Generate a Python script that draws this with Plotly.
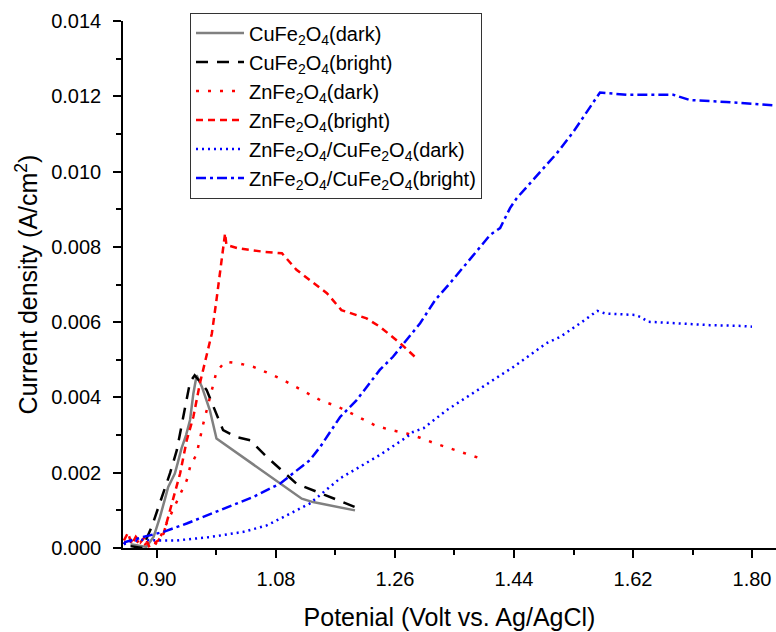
import plotly.graph_objects as go

# ---- data ----
cu_dark_x = [0.860, 0.875, 0.884, 0.895, 0.9045, 0.912, 0.917, 0.922, 0.927, 0.932, 0.937, 0.944,
             0.950, 0.955, 0.960, 0.968, 0.980, 0.990, 1.119, 1.136, 1.1995]
cu_dark_y = [0.0001, 0.00005, 0.00003, 0.0003, 0.00082, 0.0013, 0.00162, 0.0018, 0.00198, 0.0023,
             0.00264, 0.0030, 0.0034, 0.0041, 0.00459, 0.00428, 0.00366, 0.00291, 0.00131, 0.00122, 0.00100]

cu_bright_x = [0.860, 0.878, 0.892, 0.907, 0.920, 0.930, 0.940, 0.950, 0.957, 0.975, 1.000, 1.020,
               1.041, 1.066, 1.111, 1.172, 1.1995]
cu_bright_y = [0.00005, 0.0000, 0.00056, 0.00136, 0.0020, 0.0026, 0.0035, 0.00441, 0.00459, 0.0042,
               0.00313, 0.00295, 0.00286, 0.00242, 0.00171, 0.00127, 0.00109]

zn_dark_x = [0.850, 0.858, 0.866, 0.874, 0.882, 0.890, 0.900, 0.912, 0.930, 0.945, 0.950, 0.960,
             0.970, 0.980, 0.990, 1.003, 1.025, 1.046, 1.068, 1.091, 1.129, 1.150, 1.172, 1.192,
             1.212, 1.232, 1.255, 1.278, 1.298, 1.320, 1.341, 1.363, 1.389]
zn_dark_y = [0.0001, 0.0003, 0.00005, 0.00025, 0.0001, 0.0002, 0.0001, 0.00056, 0.00127, 0.0018,
             0.00215, 0.0025, 0.0033, 0.0040, 0.00468, 0.00495, 0.0049, 0.00481, 0.00465, 0.00446,
             0.0041, 0.0039, 0.00377, 0.00359, 0.00341, 0.00324, 0.00313, 0.00304, 0.00293, 0.00278,
             0.00266, 0.00254, 0.00238]

zn_bright_x = [0.850, 0.856, 0.862, 0.868, 0.875, 0.882, 0.888, 0.894, 0.902, 0.910, 0.917, 0.927,
               0.935, 0.945, 0.955, 0.965, 0.973, 0.980, 0.983, 0.990, 0.998, 1.003, 1.005, 1.023,
               1.061, 1.089, 1.111, 1.137, 1.157, 1.179, 1.217, 1.237, 1.268, 1.290]
zn_bright_y = [0.0002, 0.0004, 0.0001, 0.0003, 0.00015, 0.0003, 0.00005, 0.00012, 0.0002, 0.00038,
               0.00082, 0.00145, 0.00198, 0.00286, 0.00348, 0.00438, 0.0050, 0.00552, 0.0057, 0.00659,
               0.00774, 0.00836, 0.00805, 0.00796, 0.00787, 0.00783, 0.00739, 0.00703, 0.00677,
               0.00632, 0.0061, 0.00588, 0.00544, 0.00508]

zc_dark_x = [0.850, 0.860, 0.879, 0.900, 0.930, 0.980, 1.031, 1.066, 1.091, 1.131, 1.177, 1.222,
             1.237, 1.278, 1.288, 1.303, 1.338, 1.389, 1.439, 1.489, 1.510, 1.540, 1.555, 1.566,
             1.578, 1.623, 1.631, 1.643, 1.686, 1.736, 1.784, 1.800]
zc_dark_y = [0.0001, 0.00018, 0.00022, 0.0002, 0.0002, 0.00029, 0.00043, 0.0006, 0.00082, 0.00118,
             0.00185, 0.00233, 0.00247, 0.00295, 0.00309, 0.00318, 0.00366, 0.00424, 0.00481,
             0.00544, 0.00561, 0.00597, 0.00616, 0.0063, 0.00623, 0.00619, 0.00614, 0.00601,
             0.00597, 0.00592, 0.0059, 0.00588]

zc_bright_x = [0.850, 0.852, 0.879, 0.910, 0.945, 0.990, 1.046, 1.086, 1.131, 1.147, 1.177, 1.202,
               1.222, 1.237, 1.257, 1.278, 1.298, 1.321, 1.343, 1.389, 1.404, 1.419, 1.434, 1.444,
               1.469, 1.484, 1.505, 1.530, 1.560, 1.570, 1.610, 1.681, 1.706, 1.761, 1.832, 1.840]
zc_bright_y = [0.0001, 0.00016, 0.00029, 0.00043, 0.00065, 0.00096, 0.00136, 0.00171, 0.00233,
               0.00269, 0.00348, 0.00393, 0.00437, 0.00473, 0.00508, 0.00552, 0.00597, 0.00659,
               0.00703, 0.008, 0.00832, 0.0085, 0.00903, 0.00929, 0.00978, 0.01009, 0.01049,
               0.01106, 0.01186, 0.0121, 0.01204, 0.01204, 0.0119, 0.01185, 0.01176, 0.01175]

x_ticks = [0.90, 1.08, 1.26, 1.44, 1.62, 1.80]
y_ticks = [0.000, 0.002, 0.004, 0.006, 0.008, 0.010, 0.012, 0.014]

FONT = "Arial, Liberation Sans, sans-serif"

series = [
    ("CuFe<sub>2</sub>O<sub>4</sub>(dark)", cu_dark_x, cu_dark_y, "#808080", "solid", 2.5),
    ("CuFe<sub>2</sub>O<sub>4</sub>(bright)", cu_bright_x, cu_bright_y, "#000000", "12px,9px", 2.5),
    ("ZnFe<sub>2</sub>O<sub>4</sub>(dark)", zn_dark_x, zn_dark_y, "#FF0000", "3px,9px", 2.5),
    ("ZnFe<sub>2</sub>O<sub>4</sub>(bright)", zn_bright_x, zn_bright_y, "#FF0000", "7px,5px", 2.5),
    ("ZnFe<sub>2</sub>O<sub>4</sub>/CuFe<sub>2</sub>O<sub>4</sub>(dark)", zc_dark_x, zc_dark_y, "#0000FF", "2px,4px", 2.5),
    ("ZnFe<sub>2</sub>O<sub>4</sub>/CuFe<sub>2</sub>O<sub>4</sub>(bright)", zc_bright_x, zc_bright_y, "#0000FF", "10px,4px,3px,4px", 2.5),
]

fig = go.Figure()
for name, xs, ys, color, dash, w in series:
    fig.add_trace(go.Scatter(x=xs, y=ys, mode="lines", name=name,
                             line=dict(color=color, dash=dash, width=w)))

fig.update_layout(
    width=776, height=632,
    margin=dict(l=123, r=0, t=21, b=84),
    paper_bgcolor="white", plot_bgcolor="white",
    font=dict(family=FONT, size=20, color="black"),
    showlegend=True,
    legend=dict(x=0.1026, y=1.016, xanchor="left", yanchor="top",
                bordercolor="#333333", borderwidth=1, bgcolor="white",
                font=dict(family=FONT, size=20, color="black"),
                tracegroupgap=0, itemwidth=48),
)

fig.update_xaxes(
    range=[0.8486, 1.8363], tickvals=x_ticks, ticktext=[f"{v:.2f}" for v in x_ticks],
    showgrid=False, zeroline=False, showline=True, linecolor="black", linewidth=1.5,
    ticks="outside", ticklen=8, tickwidth=1.5, tickcolor="black",
    minor=dict(ticks="outside", ticklen=5, tickwidth=1.5, tickcolor="black", dtick=0.09, tick0=0.9),
    tickfont=dict(family=FONT, size=20), ticklabelstandoff=4,
    title=dict(text="Potenial (Volt vs. Ag/AgCl)", font=dict(family=FONT, size=25), standoff=20),
)
fig.update_yaxes(
    range=[0, 0.014], tickvals=y_ticks, ticktext=[f"{v:.3f}" for v in y_ticks],
    showgrid=False, zeroline=False, showline=True, linecolor="black", linewidth=1.5,
    ticks="outside", ticklen=8, tickwidth=1.5, tickcolor="black",
    minor=dict(ticks="outside", ticklen=5, tickwidth=1.5, tickcolor="black", dtick=0.001, tick0=0),
    tickfont=dict(family=FONT, size=20), ticklabelstandoff=8,
    title=dict(text="Current density (A/cm<sup>2</sup>)", font=dict(family=FONT, size=25), standoff=6),
)

fig.write_html("out.html")
